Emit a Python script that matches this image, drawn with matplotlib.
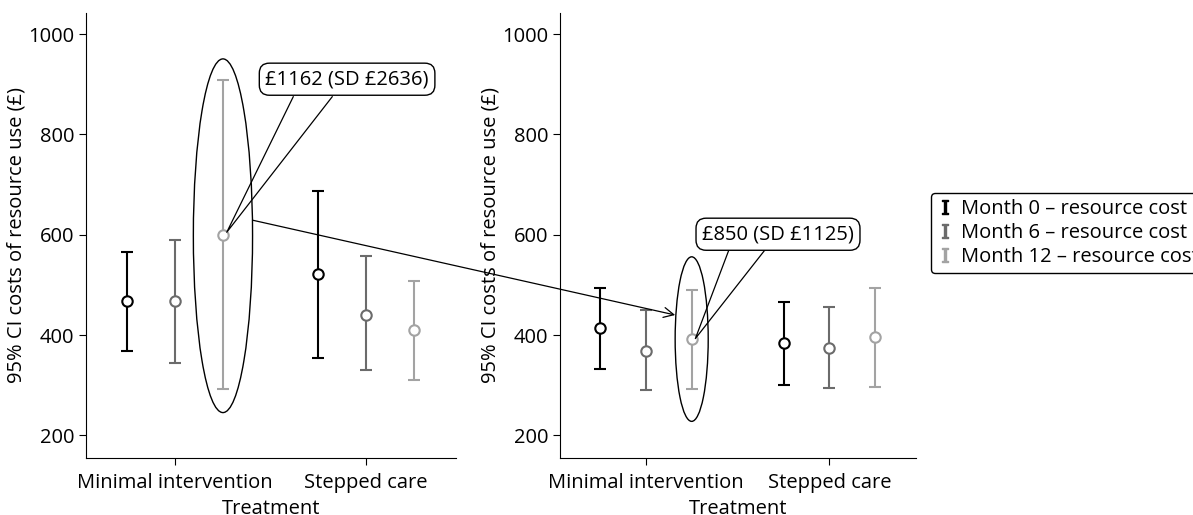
import matplotlib
matplotlib.use("Agg")
import matplotlib.pyplot as plt
from matplotlib.patches import Ellipse, ConnectionPatch
from matplotlib.lines import Line2D
import numpy as np

plt.rcParams['font.family'] = ['Open Sans', 'DejaVu Sans']
plt.rcParams['font.size'] = 14.5
plt.rcParams['mathtext.fontset'] = 'dejavuserif'

treatments = ['Minimal intervention', 'Stepped care']
months = ['Month 0 \u2013 resource cost', 'Month 6 \u2013 resource cost', 'Month 12 \u2013 resource cost']
colors = ['#000000', '#6b6b6b', '#a3a3a3']

# left panel: mean, lower CI, upper CI per month (rows) and treatment (cols)
left_mean = [[468, 521], [468, 441], [600, 410]]
left_lo = [[368, 355], [344, 330], [292, 310]]
left_hi = [[566, 688], [589, 557], [908, 507]]

# right panel
right_mean = [[414, 385], [369, 375], [392, 396]]
right_lo = [[333, 301], [290, 295], [292, 296]]
right_hi = [[494, 466], [449, 455], [489, 494]]

fig = plt.figure(figsize=(11.93, 5.15), dpi=100)
ax1 = fig.add_axes([0.0721, 0.1107, 0.3101, 0.8641])
ax2 = fig.add_axes([0.4694, 0.1107, 0.2982, 0.8641])

offsets = [-0.25, 0.0, 0.25]
base = np.arange(1, len(treatments) + 1)


def draw(ax, mean, lo, hi):
    for i in range(3):
        x = base + offsets[i]
        m = np.array(mean[i])
        err = [m - np.array(lo[i]), np.array(hi[i]) - m]
        ax.errorbar(x, m, yerr=err, fmt='none', ecolor=colors[i],
                    elinewidth=1.5, capsize=4, capthick=1.5)
        ax.plot(x, m, 'o', mfc='white', mec=colors[i], mew=1.5, ms=7.5, zorder=3)
    ax.set_xlim(0.533, 2.47)
    ax.set_ylim(155, 1042)
    ax.set_xticks(base)
    ax.set_xticklabels(treatments)
    ax.set_yticks([200, 400, 600, 800, 1000])
    ax.set_xlabel('Treatment', labelpad=4)
    ax.set_ylabel('95% CI costs of resource use (\u00a3)', labelpad=1)
    for s in ['top', 'right']:
        ax.spines[s].set_visible(False)
    ax.tick_params(direction='out', length=5)
    ax.tick_params(axis='x', pad=6)


draw(ax1, left_mean, left_lo, left_hi)
draw(ax2, right_mean, right_lo, right_hi)

# highlight ellipses
ax1.add_patch(Ellipse((1.25, 598), 0.31, 705, fill=False, ec='black', lw=1))
ax2.add_patch(Ellipse((1.25, 392), 0.18, 328, fill=False, ec='black', lw=1))

# callouts
for ax, txt, tpos, base_l, base_r, tip in [
        (ax1, '\u00a31162 (SD \u00a32636)', (1.90, 910), (1.618, 875), (1.822, 875), (1.27, 605)),
        (ax2, '\u00a3850 (SD \u00a31125)', (1.72, 601), (1.456, 573), (1.656, 573), (1.27, 393))]:
    ax.plot([base_l[0], tip[0], base_r[0]], [base_l[1], tip[1], base_r[1]], color='black', lw=0.9, zorder=4)
    ax.text(tpos[0], tpos[1], txt, ha='center', va='center', zorder=5,
            bbox=dict(boxstyle='round,pad=0.3,rounding_size=0.5', fc='white', ec='black', lw=1))

# arrow between panels
con = ConnectionPatch(xyA=(1.405, 629), coordsA=ax1.transData,
                      xyB=(1.16, 440), coordsB=ax2.transData,
                      arrowstyle='->', mutation_scale=18, color='black', lw=0.9)
fig.add_artist(con)

handles = [Line2D([], [], ls='none', marker=r'$\mathrm{I}$', ms=10, color=c, mec=c) for c in colors]
leg = ax2.legend(handles, months, loc='upper left', bbox_to_anchor=(1.043, 0.595),
                 frameon=True, fancybox=True, edgecolor='black', framealpha=1,
                 handlelength=0.8, handletextpad=0.4, labelspacing=0.2, borderpad=0.3,
                 borderaxespad=0)
leg.get_frame().set_linewidth(1)

fig.savefig('out.png', dpi=100)
